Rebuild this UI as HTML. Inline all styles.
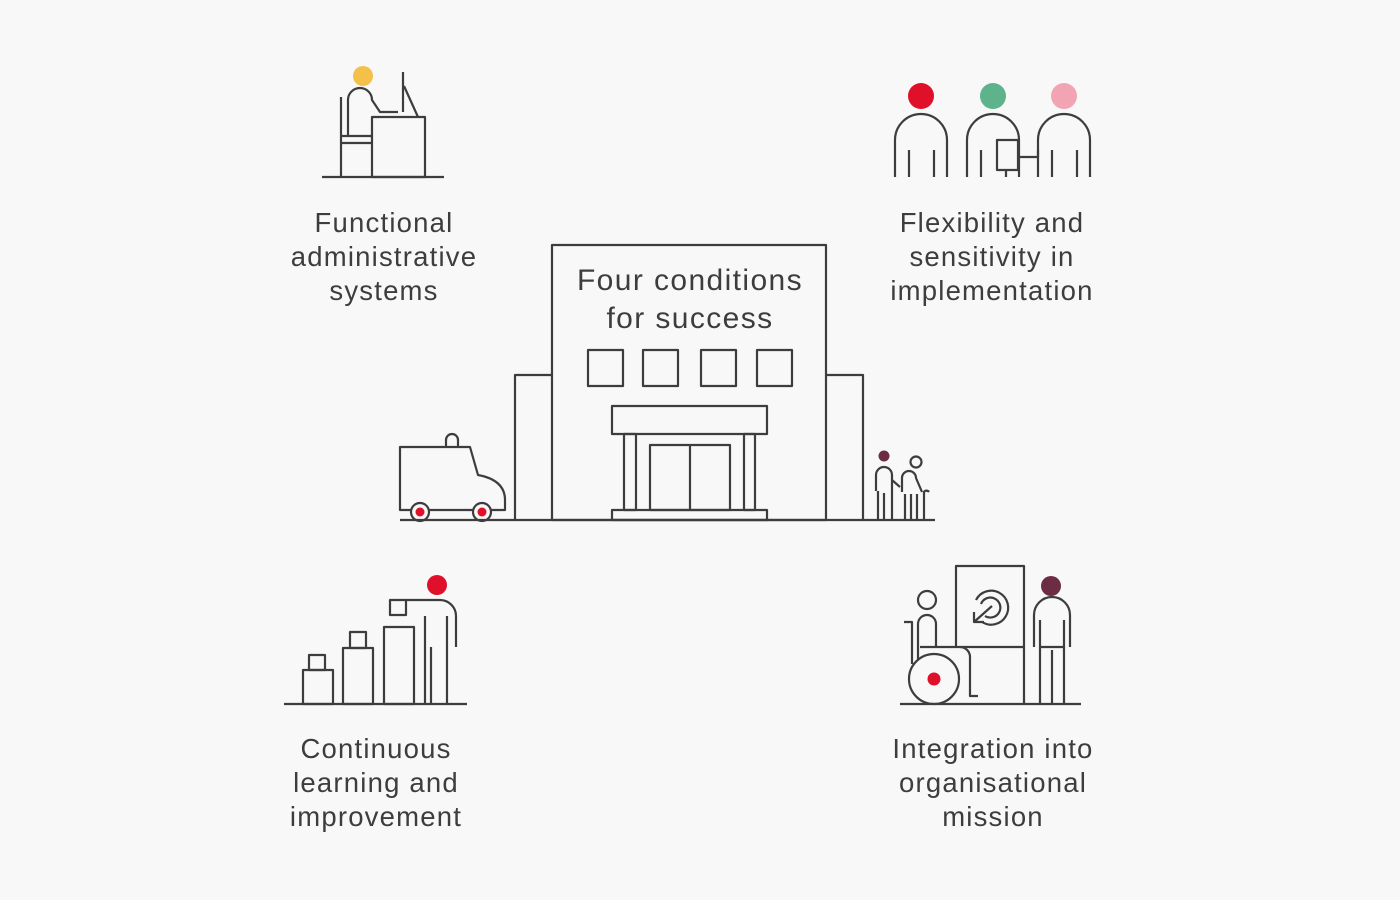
<!DOCTYPE html>
<html><head><meta charset="utf-8"><style>
html,body{margin:0;padding:0;background:#f8f8f8;}
svg{display:block;}
text{font-family:"Liberation Sans",sans-serif;fill:#3d3d3d;text-anchor:middle;}
</style></head><body>
<svg width="1400" height="900" viewBox="0 0 1400 900" xmlns="http://www.w3.org/2000/svg">
<rect width="1400" height="900" fill="#f8f8f8"/>
<g fill="none" stroke="#3d3d3d" stroke-width="2.2" stroke-linejoin="round">
<rect x="552" y="245" width="274" height="275"/>
<polyline points="552,375 515,375 515,520"/>
<polyline points="826,375 863,375 863,520"/>
<line x1="400" y1="520" x2="935" y2="520"/>
<rect x="588" y="350" width="35" height="36"/>
<rect x="643" y="350" width="35" height="36"/>
<rect x="701" y="350" width="35" height="36"/>
<rect x="757" y="350" width="35" height="36"/>
<rect x="612" y="406" width="155" height="28"/>
<rect x="624" y="434" width="12" height="76"/>
<rect x="744" y="434" width="11" height="76"/>
<rect x="650" y="445" width="80" height="65"/>
<line x1="690" y1="445" x2="690" y2="510"/>
<rect x="612" y="510" width="155" height="10"/>
<path d="M411,510 H400 V447 H470 L478,475 Q505,480 505,500 V510 H491 M473,510 H429"/>
<path d="M446,447 V440 a6,6 0 0 1 12,0 V447"/>
<circle cx="420" cy="512" r="9"/>
<circle cx="482" cy="512" r="9"/>
<path d="M878,520 V491 M876,491 V475 a8,8 0 0 1 16,0 V491 M884,520 V493 M892,520 V491 M892,480 L900,487"/>
<circle cx="916" cy="462" r="5.5"/>
<path d="M902,492 V478 a7,7 0 0 1 14,0 L922,492 M905,520 V494 M911,520 V494 M917,520 V494 M924,520 V492 a3,3 0 0 1 5,0"/>
<line x1="322" y1="177" x2="444" y2="177"/>
<rect x="372" y="117" width="53" height="60"/>
<line x1="341" y1="97" x2="341" y2="177"/>
<line x1="341" y1="136" x2="372" y2="136"/>
<line x1="341" y1="143" x2="372" y2="143"/>
<path d="M348,136 V100 a12,12 0 0 1 24,0 L380,112 H398"/>
<line x1="403" y1="72" x2="403" y2="112"/>
<line x1="404" y1="86" x2="418" y2="117"/>
<path d="M895,177 V140 a26,26 0 0 1 52,0 V177 M909,150 V177 M934,150 V177"/>
<path d="M967,177 V140 a26,26 0 0 1 52,0 V177 M981,150 V177 M1006,170 V177"/>
<path d="M1038,177 V140 a26,26 0 0 1 52,0 V177 M1052,150 V177 M1077,150 V177"/>
<rect x="997" y="140" width="21" height="30"/>
<polyline points="1018,157 1038,157 1038,150"/>
<line x1="284" y1="704" x2="467" y2="704"/>
<rect x="303" y="670" width="30" height="34"/>
<rect x="309" y="655" width="16" height="15"/>
<rect x="343" y="648" width="30" height="56"/>
<rect x="350" y="632" width="16" height="16"/>
<rect x="384" y="627" width="30" height="77"/>
<rect x="390" y="600" width="16" height="15"/>
<path d="M406,600 H440 a16,16 0 0 1 16,16 V647 M425,704 V616 M431,704 V647 M447,704 V647 M447,616 V704"/>
<line x1="900" y1="704" x2="1081" y2="704"/>
<polyline points="956,647 956,566 1024,566 1024,704"/>
<line x1="920" y1="647" x2="1024" y2="647"/>
<circle cx="927" cy="600" r="9"/>
<path d="M918,660 V624 a9,9 0 0 1 18,0 V647"/>
<path d="M904,622 H912 V664 M960,647 a10,10 0 0 1 10,10 V696 H978"/>
<circle cx="934" cy="679" r="25"/>
<path d="M976,600 a17,17 0 1 1 6,22 M981,604 a10,10 0 1 1 4,12"/>
<path d="M992,606 L974,622 M974,612 V622 H984"/>
<path d="M1034,647 V615 a18,18 0 0 1 36,0 V647 M1040,704 V620 M1064,704 V620 M1052,704 V650 M1040,647 H1064"/>
</g>
<circle cx="420" cy="512" r="4.5" fill="#e0102a"/>
<circle cx="482" cy="512" r="4.5" fill="#e0102a"/>
<circle cx="884" cy="456" r="5.5" fill="#6b2c44"/>
<circle cx="363" cy="76" r="10" fill="#f5c04a"/>
<circle cx="921" cy="96" r="13" fill="#e0102a"/>
<circle cx="993" cy="96" r="13" fill="#5db38c"/>
<circle cx="1064" cy="96" r="13" fill="#f2a4b4"/>
<circle cx="437" cy="585" r="10" fill="#e0102a"/>
<circle cx="934" cy="679" r="6.5" fill="#e0102a"/>
<circle cx="1051" cy="586" r="10" fill="#6b2c44"/>
<g font-size="30" letter-spacing="1.4">
<text x="690" y="290">Four conditions</text>
<text x="690" y="328">for success</text>
</g>
<g font-size="27.5" letter-spacing="1.2">
<text x="384" y="232">Functional</text>
<text x="384" y="266">administrative</text>
<text x="384" y="300">systems</text>
<text x="992" y="232">Flexibility and</text>
<text x="992" y="266">sensitivity in</text>
<text x="992" y="300">implementation</text>
<text x="376" y="758">Continuous</text>
<text x="376" y="792">learning and</text>
<text x="376" y="826">improvement</text>
<text x="993" y="758">Integration into</text>
<text x="993" y="792">organisational</text>
<text x="993" y="826">mission</text>
</g>
</svg>
</body></html>
